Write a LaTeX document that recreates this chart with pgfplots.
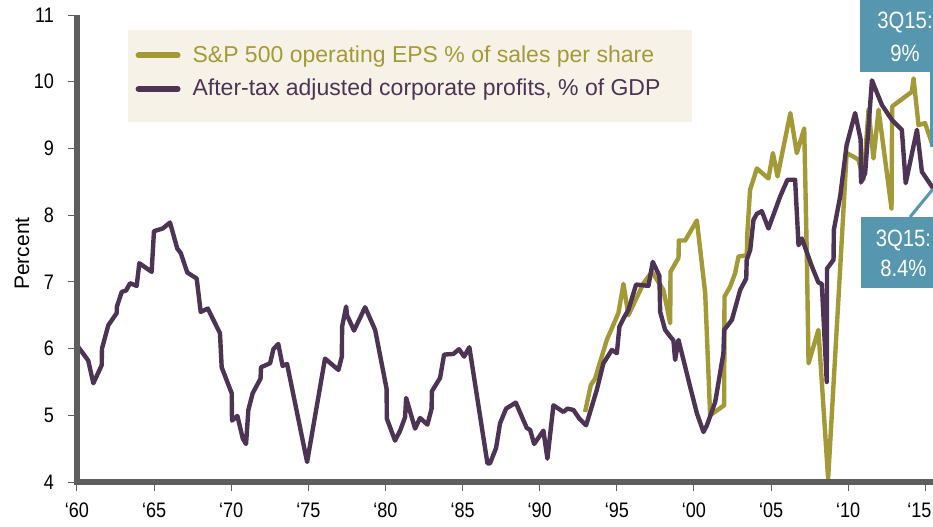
\documentclass[border=0pt]{standalone}
\usepackage{fontspec}
\setmainfont{Liberation Sans}
\newfontfamily\condfont[FakeStretch=0.86]{Liberation Sans}
\usepackage{pgfplots}
\pgfplotsset{compat=1.18}
\definecolor{gold}{HTML}{A39A37}
\definecolor{plum}{HTML}{4D3354}
\definecolor{cream}{HTML}{F7F2E7}
\definecolor{callout}{HTML}{5796AF}
\definecolor{axgray}{HTML}{5E5E5E}
\begin{document}
\begin{tikzpicture}[x=1pt,y=1pt]
\fill[cream] (64,202) rectangle (346,248);
\begin{axis}[
  at={(38.5pt,22pt)}, anchor=south west, scale only axis,
  width=428pt, height=233.5pt,
  xmin=1960, xmax=2015.5, ymin=4, ymax=11,
  axis x line*=bottom, axis y line*=left,
  axis line style={axgray},
  tick align=outside, major tick length=4.5pt,
  tick style={axgray, line width=0.5pt},
  xtick={1960,1965,...,2015},
  xticklabels={‘60,‘65,‘70,‘75,‘80,‘85,‘90,‘95,‘00,‘05,‘10,\hspace*{-6pt}‘15},
  ytick={4,5,...,11},
  tick label style={font=\condfont\fontsize{10.5}{12}\selectfont},
  xticklabel style={yshift=-2.5pt},
  yticklabel style={xshift=-3.5pt},
  /pgf/number format/assume math mode=true,
  ylabel={Percent},
  every axis y label/.style={at={(axis description cs:-0.0643,0.489)}, rotate=90, anchor=center, font=\fontsize{10.5}{12}\selectfont},
  legend style={at={(axis description cs:0.068,0.944)}, anchor=north west, draw=none, fill=none, inner sep=0pt, font=\fontsize{11.5}{13}\selectfont, row sep=3pt, column sep=4pt, cells={anchor=west}},
  legend image code/.code={\draw[#1, line width=3pt, line cap=round] (1.5pt,0pt) -- (21pt,0pt);},
  every axis plot/.append style={line width=2.2pt, line join=round},
]
\addplot[gold] table {
1992.94 5.05
1993.31 5.45
1993.59 5.55
1994.35 6.13
1995.10 6.53
1995.43 6.97
1995.75 6.50
1996.73 6.98
1997.27 7.15
1998.02 6.88
1998.46 6.38
1998.48 7.15
1999.00 7.36
1999.02 7.62
1999.43 7.62
2000.19 7.92
2000.73 6.83
2001.05 5.00
2001.96 5.15
2001.98 6.78
2002.35 6.93
2002.67 7.13
2002.89 7.38
2003.43 7.40
2003.45 7.68
2003.64 8.38
2004.08 8.70
2004.83 8.55
2005.12 8.93
2005.42 8.58
2006.25 9.53
2006.67 8.93
2007.15 9.30
2007.32 7.38
2007.43 5.78
2008.07 6.28
2008.70 4.05
2009.48 7.20
2009.90 8.93
2010.32 8.88
2010.67 8.83
2010.99 8.53
2011.32 9.58
2011.64 8.85
2011.97 9.58
2012.81 8.10
2012.85 9.63
2014.13 9.85
2014.24 10.05
2014.56 9.35
2014.98 9.38
2015.50 9.03
};
\addlegendentry{\textcolor{gold}{S\&P 500 operating EPS \% of sales per share}}
\addplot[plum] table {
1960.00 6.05
1960.73 5.82
1961.06 5.48
1961.60 5.75
1961.62 6.00
1962.03 6.35
1962.57 6.53
1962.59 6.63
1962.90 6.85
1963.18 6.87
1963.44 6.98
1963.87 6.94
1964.04 7.28
1964.84 7.15
1964.99 7.76
1965.56 7.80
1966.03 7.89
1966.50 7.50
1966.73 7.43
1967.15 7.14
1967.76 7.05
1968.02 6.55
1968.48 6.60
1969.27 6.23
1969.38 5.72
1970.03 5.33
1970.05 4.92
1970.40 4.99
1970.75 4.65
1970.96 4.57
1971.11 5.08
1971.39 5.33
1971.90 5.55
1971.93 5.72
1972.52 5.78
1972.73 5.99
1973.05 6.07
1973.33 5.74
1973.62 5.77
1974.92 4.30
1976.08 5.85
1976.95 5.68
1977.17 5.88
1977.19 6.33
1977.45 6.63
1977.51 6.50
1977.96 6.27
1978.68 6.62
1979.33 6.28
1980.07 5.40
1980.09 4.95
1980.62 4.62
1980.95 4.77
1981.27 4.97
1981.34 5.26
1981.92 4.80
1982.24 4.96
1982.72 4.86
1982.99 5.10
1983.01 5.36
1983.54 5.56
1983.80 5.91
1984.40 5.92
1984.77 5.99
1985.10 5.88
1985.44 6.02
1986.61 4.28
1986.78 4.28
1987.17 4.51
1987.43 4.88
1987.82 5.10
1988.45 5.19
1989.16 4.81
1989.38 4.78
1989.64 4.57
1990.24 4.77
1990.50 4.35
1990.89 5.15
1991.54 5.05
1991.80 5.10
1992.19 5.08
1992.57 4.95
1993.01 4.85
1993.70 5.38
1994.13 5.78
1994.68 5.98
1995.00 5.93
1995.17 6.33
1995.43 6.45
1995.75 6.58
1996.25 6.96
1997.05 6.94
1997.33 7.30
1997.76 7.09
1997.81 6.55
1998.13 6.28
1998.67 6.12
1998.78 5.83
1999.00 6.13
1999.75 5.43
2000.19 5.03
2000.62 4.75
2000.84 4.85
2001.38 5.20
2001.91 5.93
2001.96 6.28
2002.46 6.43
2003.00 6.88
2003.39 7.05
2003.42 7.33
2003.65 7.48
2003.86 7.93
2004.08 8.02
2004.40 8.06
2004.83 7.80
2005.59 8.28
2006.06 8.53
2006.56 8.53
2006.78 7.55
2007.00 7.65
2007.65 7.23
2008.07 6.99
2008.29 6.97
2008.61 5.50
2008.63 7.20
2009.05 7.33
2009.07 7.78
2009.48 8.28
2009.90 9.05
2010.45 9.53
2010.81 9.13
2010.83 8.49
2011.10 8.63
2011.54 10.02
2012.19 9.65
2012.83 9.43
2013.48 9.28
2013.73 8.48
2014.46 9.28
2014.78 8.65
2015.51 8.40
};
\addlegendentry{\textcolor{plum}{After-tax adjusted corporate profits, \% of GDP}}
\end{axis}
% thick axis lines
\fill[axgray] (37.2,255.5) rectangle (39.8,20.7);
\fill[axgray] (37.2,20.7) rectangle (470,23.3);
% callouts
\fill[callout] (430,227) rectangle (470,266);
\node[text=white, font=\condfont\fontsize{11.8}{14}\selectfont] at (452.5,252) {3Q15:};
\node[text=white, font=\condfont\fontsize{11.8}{14}\selectfont] at (452.5,236.5) {9\%};
\draw[callout, line width=1.5pt] (465.5,227) -- (465.5,189.5);
\fill[callout] (430.3,119) rectangle (470,154.5);
\node[text=white, font=\condfont\fontsize{11.8}{14}\selectfont] at (451.7,143) {3Q15:};
\node[text=white, font=\condfont\fontsize{11.8}{14}\selectfont] at (451.7,129) {8.4\%};
\draw[callout, line width=1.5pt] (455,154.5) -- (466.5,168.5);
\pgfresetboundingbox
\path[use as bounding box] (0,0) rectangle (466.5,263);
\end{tikzpicture}
\end{document}
